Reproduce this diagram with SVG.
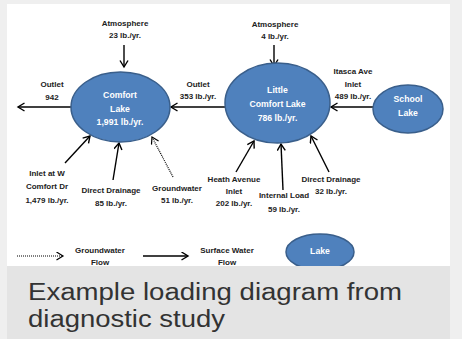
<svg xmlns="http://www.w3.org/2000/svg" width="462" height="339" viewBox="0 0 462 339">
<style>
.lbl{font-family:"Liberation Sans",Arial,sans-serif;font-weight:bold;font-size:8px;fill:#222;text-anchor:middle}
.el{font-family:"Liberation Sans",Arial,sans-serif;font-weight:bold;font-size:8.7px;fill:#fff;text-anchor:middle}
.lake{fill:#4f81bd;stroke:#3a5f8b;stroke-width:1.5}
.ar{stroke:#000;stroke-width:1.4;fill:none;marker-end:url(#ah)}
.dot{stroke:#000;stroke-width:1.2;stroke-dasharray:1 1;fill:none;marker-end:url(#ahd)}
.cap{font-family:"Liberation Sans",Arial,sans-serif;font-size:23px;fill:#333}
</style>
<defs>
<marker id="ah" markerUnits="userSpaceOnUse" markerWidth="10" markerHeight="10" refX="7.5" refY="4.5" orient="auto">
<path d="M1,0.5 L7.5,4.5 L1,8.5" fill="none" stroke="#000" stroke-width="1.4"/>
</marker>
<marker id="ahd" markerUnits="userSpaceOnUse" markerWidth="10" markerHeight="10" refX="7.5" refY="4.5" orient="auto">
<path d="M1,0.5 L7.5,4.5 L1,8.5" fill="none" stroke="#000" stroke-width="1.2"/>
</marker>
</defs>
<rect x="0" y="0" width="462" height="339" fill="#efefef"/>
<rect x="7" y="4" width="443" height="262" fill="#fff"/>

<g id="connectors">
<line class="ar" x1="124" y1="45" x2="124" y2="67"/>
<line class="ar" x1="274" y1="45" x2="274" y2="66"/>
<line class="ar" x1="72" y1="107" x2="18" y2="107"/>
<line class="ar" x1="226" y1="107" x2="171" y2="107"/>
<line class="ar" x1="373" y1="107" x2="331" y2="107"/>
<line class="ar" x1="65" y1="163" x2="90" y2="136"/>
<line class="ar" x1="113" y1="180" x2="119" y2="143"/>
<line class="dot" x1="173" y1="177" x2="152" y2="137"/>
<line class="ar" x1="236" y1="172" x2="254" y2="141"/>
<line class="ar" x1="283" y1="190" x2="281" y2="144"/>
<line class="ar" x1="329" y1="172" x2="311" y2="136"/>
<line class="dot" x1="17" y1="256" x2="63" y2="256"/>
<line class="ar" x1="143" y1="256" x2="188" y2="256"/>
</g>

<g id="comfort-lake">
<ellipse class="lake" cx="120.5" cy="107" rx="49.5" ry="35"/>
<text class="el" x="120" y="98">Comfort</text>
<text class="el" x="120" y="112">Lake</text>
<text class="el" x="120" y="125">1,991 lb./yr.</text>
</g>
<g id="little-comfort-lake">
<ellipse class="lake" cx="277.5" cy="103" rx="52.5" ry="40"/>
<text class="el" x="277.5" y="93">Little</text>
<text class="el" x="277.5" y="107">Comfort Lake</text>
<text class="el" x="277.5" y="121">786 lb./yr.</text>
</g>
<g id="school-lake">
<ellipse class="lake" cx="408" cy="109" rx="35" ry="24"/>
<text class="el" x="408" y="102">School</text>
<text class="el" x="408" y="116">Lake</text>
</g>
<g id="legend-lake">
<ellipse class="lake" cx="320" cy="252" rx="34" ry="18"/>
<text class="el" x="320" y="254">Lake</text>
</g>

<g id="atm1"><text class="lbl" x="125" y="26">Atmosphere</text><text class="lbl" x="125" y="38">23 lb./yr.</text></g>
<g id="atm2"><text class="lbl" x="275" y="27">Atmosphere</text><text class="lbl" x="275" y="39">4 lb./yr.</text></g>
<g id="outlet1"><text class="lbl" x="52" y="87">Outlet</text><text class="lbl" x="52" y="100">942</text></g>
<g id="outlet2"><text class="lbl" x="198" y="87">Outlet</text><text class="lbl" x="198" y="99">353 lb./yr.</text></g>
<g id="itasca"><text class="lbl" x="353" y="74">Itasca Ave</text><text class="lbl" x="353" y="87">Inlet</text><text class="lbl" x="353" y="99">489 lb./yr.</text></g>
<g id="inlet-w"><text class="lbl" x="47" y="176">Inlet at W</text><text class="lbl" x="47" y="189">Comfort Dr</text><text class="lbl" x="47" y="203">1,479 lb./yr.</text></g>
<g id="dd85"><text class="lbl" x="111" y="193">Direct Drainage</text><text class="lbl" x="111" y="206">85 lb./yr.</text></g>
<g id="gw51"><text class="lbl" x="177" y="191">Groundwater</text><text class="lbl" x="177" y="203">51 lb./yr.</text></g>
<g id="heath"><text class="lbl" x="234" y="182">Heath Avenue</text><text class="lbl" x="234" y="194">Inlet</text><text class="lbl" x="234" y="206">202 lb./yr.</text></g>
<g id="internal"><text class="lbl" x="284" y="198">Internal Load</text><text class="lbl" x="284" y="212">59 lb./yr.</text></g>
<g id="dd32"><text class="lbl" x="331" y="182">Direct Drainage</text><text class="lbl" x="331" y="194">32 lb./yr.</text></g>
<g id="legend-gw"><text class="lbl" x="100" y="253">Groundwater</text><text class="lbl" x="100" y="265">Flow</text></g>
<g id="legend-sw"><text class="lbl" x="227" y="253">Surface Water</text><text class="lbl" x="227" y="265">Flow</text></g>

<g id="caption">
<rect x="7" y="266" width="443" height="73" fill="#e4e4e4"/>
<text class="cap" x="28" y="300" textLength="374" lengthAdjust="spacingAndGlyphs">Example loading diagram from</text>
<text class="cap" x="28" y="327" textLength="197" lengthAdjust="spacingAndGlyphs">diagnostic study</text>
</g>
</svg>
